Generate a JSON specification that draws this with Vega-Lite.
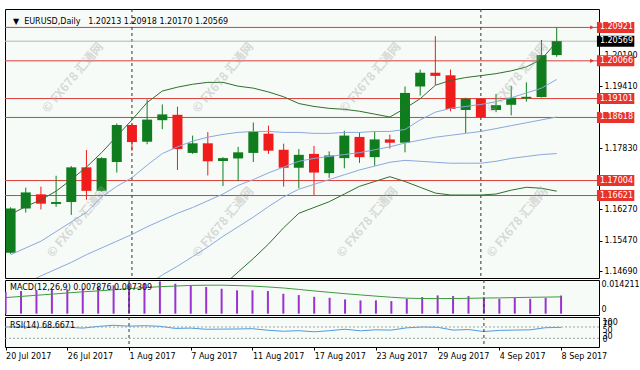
{
  "$schema": "https://vega.github.io/schema/vega-lite/v6.json",
  "padding": {"left": 4, "top": 8, "right": 0, "bottom": 0},
  "background": "white",
  "bounds": "flush",
  "spacing": 2,
  "config": {
    "view": {"stroke": "#000000", "strokeWidth": 1, "fill": "#f7fbf7"},
    "font": "DejaVu Sans",
    "axis": {"labelFont": "DejaVu Sans", "labelFontSize": 8, "labelColor": "#000000", "tickColor": "#000000", "tickSize": 3, "domain": false, "grid": false, "labelPadding": 2}
  },
  "datasets": {
    "bars": [
      {"i":0,"o":1.15157,"h":1.16320,"l":1.15130,"c":1.16290,"u2":1.16142,"u1":1.15108,"m":1.14197,"l1":null,"l2":null,"macd":0.00950,"sig":0.00700,"rsi":70.0},
      {"i":1,"o":1.16290,"h":1.16824,"l":1.16184,"c":1.16701,"u2":1.16339,"u1":1.15281,"m":1.14370,"l1":null,"l2":null,"macd":0.00984,"sig":0.00750,"rsi":70.2},
      {"i":2,"o":1.16652,"h":1.16849,"l":1.16266,"c":1.16413,"u2":1.16512,"u1":1.15453,"m":1.14567,"l1":null,"l2":null,"macd":0.01014,"sig":0.00800,"rsi":68.5},
      {"i":3,"o":1.16406,"h":1.17127,"l":1.16332,"c":1.16455,"u2":1.16733,"u1":1.15699,"m":1.14739,"l1":null,"l2":null,"macd":0.01027,"sig":0.00850,"rsi":68.0},
      {"i":4,"o":1.16455,"h":1.17374,"l":1.16125,"c":1.17342,"u2":1.17029,"u1":1.15945,"m":1.14911,"l1":null,"l2":null,"macd":0.01058,"sig":0.00900,"rsi":69.5},
      {"i":5,"o":1.17342,"h":1.17785,"l":1.16512,"c":1.16741,"u2":1.17349,"u1":1.16192,"m":1.15108,"l1":null,"l2":null,"macd":0.01084,"sig":0.00950,"rsi":66.0},
      {"i":6,"o":1.16741,"h":1.17600,"l":1.16720,"c":1.17578,"u2":1.17718,"u1":1.16586,"m":1.15281,"l1":null,"l2":null,"macd":0.01158,"sig":0.00990,"rsi":72.0},
      {"i":7,"o":1.17479,"h":1.18464,"l":1.17209,"c":1.18425,"u2":1.18137,"u1":1.16857,"m":1.15453,"l1":null,"l2":null,"macd":0.01232,"sig":0.01040,"rsi":76.0},
      {"i":8,"o":1.18425,"h":1.18450,"l":1.17768,"c":1.17989,"u2":1.18556,"u1":1.17078,"m":1.15625,"l1":null,"l2":null,"macd":0.01276,"sig":0.01087,"rsi":73.0},
      {"i":9,"o":1.17997,"h":1.19080,"l":1.17933,"c":1.18563,"u2":1.18999,"u1":1.17398,"m":1.15822,"l1":1.14320,"l2":null,"macd":0.01320,"sig":0.01130,"rsi":74.5},
      {"i":10,"o":1.18548,"h":1.18950,"l":1.18317,"c":1.18696,"u2":1.19294,"u1":1.17694,"m":1.15995,"l1":1.14591,"l2":null,"macd":0.01400,"sig":0.01174,"rsi":72.5},
      {"i":11,"o":1.18686,"h":1.18893,"l":1.17275,"c":1.17809,"u2":1.19393,"u1":1.17866,"m":1.16167,"l1":1.14813,"l2":null,"macd":0.01302,"sig":0.01200,"rsi":65.0},
      {"i":12,"o":1.17711,"h":1.18154,"l":1.17686,"c":1.17957,"u2":1.19467,"u1":1.18014,"m":1.16315,"l1":1.15059,"l2":null,"macd":0.01232,"sig":0.01229,"rsi":66.0},
      {"i":13,"o":1.17957,"h":1.18243,"l":1.17135,"c":1.17497,"u2":1.19516,"u1":1.18112,"m":1.16487,"l1":1.15305,"l2":null,"macd":0.01158,"sig":0.01237,"rsi":62.0},
      {"i":14,"o":1.17504,"h":1.17602,"l":1.16864,"c":1.17578,"u2":1.19516,"u1":1.18186,"m":1.16660,"l1":1.15576,"l2":1.14320,"macd":0.01084,"sig":0.01240,"rsi":62.5},
      {"i":15,"o":1.17570,"h":1.17866,"l":1.16987,"c":1.17726,"u2":1.19418,"u1":1.18236,"m":1.16881,"l1":1.15822,"l2":1.14665,"macd":0.01014,"sig":0.01222,"rsi":63.0},
      {"i":16,"o":1.17711,"h":1.18489,"l":1.17479,"c":1.18260,"u2":1.19368,"u1":1.18260,"m":1.17029,"l1":1.16069,"l2":1.15010,"macd":0.01014,"sig":0.01200,"rsi":64.0},
      {"i":17,"o":1.18203,"h":1.18408,"l":1.17686,"c":1.17768,"u2":1.19270,"u1":1.18260,"m":1.17201,"l1":1.16339,"l2":1.15379,"macd":0.00984,"sig":0.01162,"rsi":58.5},
      {"i":18,"o":1.17792,"h":1.17947,"l":1.16849,"c":1.17332,"u2":1.19147,"u1":1.18236,"m":1.17349,"l1":1.16586,"l2":1.15798,"macd":0.00865,"sig":0.01117,"rsi":55.0},
      {"i":19,"o":1.17332,"h":1.17810,"l":1.16807,"c":1.17662,"u2":1.18974,"u1":1.18236,"m":1.17497,"l1":1.16783,"l2":1.16167,"macd":0.00808,"sig":0.01055,"rsi":57.0},
      {"i":20,"o":1.17686,"h":1.17891,"l":1.16635,"c":1.17209,"u2":1.18900,"u1":1.18211,"m":1.17571,"l1":1.16906,"l2":1.16315,"macd":0.00734,"sig":0.00988,"rsi":53.0},
      {"i":21,"o":1.17194,"h":1.17750,"l":1.17071,"c":1.17645,"u2":1.18851,"u1":1.18211,"m":1.17620,"l1":1.17029,"l2":1.16463,"macd":0.00690,"sig":0.00928,"rsi":57.0},
      {"i":22,"o":1.17578,"h":1.18277,"l":1.17317,"c":1.18154,"u2":1.18826,"u1":1.18236,"m":1.17669,"l1":1.17152,"l2":1.16660,"macd":0.00620,"sig":0.00868,"rsi":62.0},
      {"i":23,"o":1.18120,"h":1.18235,"l":1.17455,"c":1.17603,"u2":1.18777,"u1":1.18236,"m":1.17718,"l1":1.17275,"l2":1.16857,"macd":0.00577,"sig":0.00815,"rsi":56.5},
      {"i":24,"o":1.17603,"h":1.18260,"l":1.17381,"c":1.18056,"u2":1.18703,"u1":1.18260,"m":1.17792,"l1":1.17374,"l2":1.16980,"macd":0.00577,"sig":0.00763,"rsi":60.0},
      {"i":25,"o":1.18056,"h":1.18179,"l":1.17824,"c":1.17972,"u2":1.18629,"u1":1.18260,"m":1.17866,"l1":1.17472,"l2":1.17103,"macd":0.00546,"sig":0.00715,"rsi":59.0},
      {"i":26,"o":1.17972,"h":1.19410,"l":1.17726,"c":1.19245,"u2":1.18851,"u1":1.18309,"m":1.17965,"l1":1.17521,"l2":1.16980,"macd":0.00647,"sig":0.00674,"rsi":67.0},
      {"i":27,"o":1.19410,"h":1.19843,"l":1.19179,"c":1.19762,"u2":1.19097,"u1":1.18556,"m":1.18039,"l1":1.17497,"l2":1.16832,"macd":0.00721,"sig":0.00660,"rsi":70.0},
      {"i":28,"o":1.19762,"h":1.20698,"l":1.19449,"c":1.19681,"u2":1.19442,"u1":1.18753,"m":1.18112,"l1":1.17472,"l2":1.16684,"macd":0.00795,"sig":0.00656,"rsi":69.0},
      {"i":29,"o":1.19696,"h":1.19843,"l":1.18777,"c":1.18834,"u2":1.19565,"u1":1.18851,"m":1.18162,"l1":1.17448,"l2":1.16635,"macd":0.00765,"sig":0.00660,"rsi":59.0},
      {"i":30,"o":1.18809,"h":1.19122,"l":1.18218,"c":1.19097,"u2":1.19639,"u1":1.18900,"m":1.18211,"l1":1.17448,"l2":1.16635,"macd":0.00765,"sig":0.00668,"rsi":61.0},
      {"i":31,"o":1.19097,"h":1.19110,"l":1.18600,"c":1.18629,"u2":1.19688,"u1":1.18950,"m":1.18260,"l1":1.17448,"l2":1.16635,"macd":0.00721,"sig":0.00680,"rsi":54.0},
      {"i":32,"o":1.18809,"h":1.19220,"l":1.18753,"c":1.18932,"u2":1.19738,"u1":1.19023,"m":1.18334,"l1":1.17497,"l2":1.16660,"macd":0.00647,"sig":0.00687,"rsi":58.0},
      {"i":33,"o":1.18942,"h":1.19425,"l":1.18671,"c":1.19122,"u2":1.19811,"u1":1.19122,"m":1.18408,"l1":1.17571,"l2":1.16758,"macd":0.00690,"sig":0.00700,"rsi":59.0},
      {"i":34,"o":1.19105,"h":1.19516,"l":1.19023,"c":1.19146,"u2":1.19910,"u1":1.19245,"m":1.18482,"l1":1.17620,"l2":1.16832,"macd":0.00647,"sig":0.00711,"rsi":60.0},
      {"i":35,"o":1.19139,"h":1.20599,"l":1.19130,"c":1.20213,"u2":1.20107,"u1":1.19368,"m":1.18556,"l1":1.17669,"l2":1.16807,"macd":0.00690,"sig":0.00720,"rsi":67.5},
      {"i":36,"o":1.20213,"h":1.20918,"l":1.20170,"c":1.20569,"u2":1.20550,"u1":1.19590,"m":1.18629,"l1":1.17694,"l2":1.16733,"macd":0.007876,"sig":0.007309,"rsi":68.6671}
    ],
    "levels": [{"p":1.20921},{"p":1.20066},{"p":1.19101},{"p":1.18618},{"p":1.17004},{"p":1.16621}],
    "last": [{"p":1.20569}],
    "sep": [{"i":8},{"i":31}],
    "wm": [
      {"i":4.1,"p":1.19639},{"i":14.0,"p":1.19639},{"i":23.7,"p":1.19639},{"i":33.4,"p":1.19639},
      {"i":4.4,"p":1.15945},{"i":14.0,"p":1.15945},{"i":23.5,"p":1.15945},{"i":33.4,"p":1.15945}
    ],
    "ttl": [{"t":"▼\u00a0 EURUSD,Daily\u00a0\u00a0 1.20213 1.20918 1.20170 1.20569","i":0.156,"p":1.21055}],
    "macdlbl": [{"t":"MACD(12,26,9) 0.007876 0.007309","i":0.285,"v":0.01095}],
    "rsilbl": [{"t":"RSI(14) 68.6671","i":0.285,"v":73.5}],
    "rsilev": [{"v":70},{"v":30}],
    "rsiax": [{"v":100},{"v":70},{"v":50},{"v":30},{"v":0}]
  },
  "vconcat": [
    {
      "width": 594,
      "height": 269,
      "layer": [
        {
          "data": {"name": "levels"},
          "mark": {"type": "rule", "color": "#dc3c38", "strokeWidth": 1},
          "encoding": {
            "y": {"field": "p", "type": "quantitative", "scale": {"domain": [1.1464, 1.21264], "nice": false, "zero": false},
              "axis": {"orient": "right", "values": [1.1469, 1.1547, 1.1627, 1.1783, 1.1941, 1.2019], "format": ".5f", "title": null, "labelBaseline": "middle", "labelOverlap": false, "labelFlush": false}}
          }
        },
        {
          "data": {"name": "sep"},
          "mark": {"type": "rule", "color": "#333333", "strokeDash": [3, 3], "strokeWidth": 1},
          "encoding": {
            "x": {"field": "i", "type": "quantitative", "scale": {"domain": [-0.039, 38.458], "nice": false, "zero": false}, "axis": null}
          }
        },
        {
          "data": {"name": "last"},
          "mark": {"type": "rule", "color": "#b4b4b4", "strokeWidth": 1},
          "encoding": {
            "y": {"field": "p", "type": "quantitative", "scale": {"domain": [1.1464, 1.21264], "nice": false, "zero": false}}
          }
        },
        {
          "data": {"name": "bars"},
          "mark": {"type": "rule", "strokeWidth": 1, "clip": true},
          "encoding": {
            "x": {"field": "i", "type": "quantitative", "scale": {"domain": [-0.039, 38.458], "nice": false, "zero": false}, "axis": null},
            "y": {"field": "l", "type": "quantitative", "scale": {"domain": [1.1464, 1.21264], "nice": false, "zero": false}},
            "y2": {"field": "h"},
            "color": {"condition": {"test": "datum.c >= datum.o", "value": "#0f7d1e"}, "value": "#f01c1c"}
          }
        },
        {
          "data": {"name": "bars"},
          "mark": {"type": "bar", "size": 10, "clip": true},
          "encoding": {
            "x": {"field": "i", "type": "quantitative", "scale": {"domain": [-0.039, 38.458], "nice": false, "zero": false}, "axis": null},
            "y": {"field": "o", "type": "quantitative", "scale": {"domain": [1.1464, 1.21264], "nice": false, "zero": false}},
            "y2": {"field": "c"},
            "color": {"condition": {"test": "datum.c >= datum.o", "value": "#0f7d1e"}, "value": "#f01c1c"}
          }
        },
        {
          "data": {"name": "bars"},
          "mark": {"type": "line", "color": "#2f6f2f", "strokeWidth": 1, "clip": true},
          "encoding": {
            "x": {"field": "i", "type": "quantitative", "scale": {"domain": [-0.039, 38.458], "nice": false, "zero": false}, "axis": null},
            "y": {"field": "u2", "type": "quantitative", "scale": {"domain": [1.1464, 1.21264], "nice": false, "zero": false}}
          }
        },
        {
          "data": {"name": "bars"},
          "mark": {"type": "line", "color": "#2f6f2f", "strokeWidth": 1, "clip": true},
          "encoding": {
            "x": {"field": "i", "type": "quantitative", "scale": {"domain": [-0.039, 38.458], "nice": false, "zero": false}, "axis": null},
            "y": {"field": "l2", "type": "quantitative", "scale": {"domain": [1.1464, 1.21264], "nice": false, "zero": false}}
          }
        },
        {
          "data": {"name": "bars"},
          "mark": {"type": "line", "color": "#8aa8de", "strokeWidth": 1, "clip": true},
          "encoding": {
            "x": {"field": "i", "type": "quantitative", "scale": {"domain": [-0.039, 38.458], "nice": false, "zero": false}, "axis": null},
            "y": {"field": "u1", "type": "quantitative", "scale": {"domain": [1.1464, 1.21264], "nice": false, "zero": false}}
          }
        },
        {
          "data": {"name": "bars"},
          "mark": {"type": "line", "color": "#8aa8de", "strokeWidth": 1, "clip": true},
          "encoding": {
            "x": {"field": "i", "type": "quantitative", "scale": {"domain": [-0.039, 38.458], "nice": false, "zero": false}, "axis": null},
            "y": {"field": "m", "type": "quantitative", "scale": {"domain": [1.1464, 1.21264], "nice": false, "zero": false}}
          }
        },
        {
          "data": {"name": "bars"},
          "mark": {"type": "line", "color": "#8aa8de", "strokeWidth": 1, "clip": true},
          "encoding": {
            "x": {"field": "i", "type": "quantitative", "scale": {"domain": [-0.039, 38.458], "nice": false, "zero": false}, "axis": null},
            "y": {"field": "l1", "type": "quantitative", "scale": {"domain": [1.1464, 1.21264], "nice": false, "zero": false}}
          }
        },
        {
          "data": {"name": "wm"},
          "mark": {"type": "text", "text": "© FX678 汇通网", "angle": -50, "font": "Noto Sans CJK SC", "fontSize": 12, "fontWeight": "bold", "color": "#a8a8a8", "opacity": 0.4, "align": "center", "baseline": "middle", "clip": true},
          "encoding": {
            "x": {"field": "i", "type": "quantitative", "scale": {"domain": [-0.039, 38.458], "nice": false, "zero": false}, "axis": null},
            "y": {"field": "p", "type": "quantitative", "scale": {"domain": [1.1464, 1.21264], "nice": false, "zero": false}}
          }
        },
        {
          "data": {"name": "ttl"},
          "mark": {"type": "text", "font": "DejaVu Sans", "fontSize": 8, "color": "#000000", "align": "left", "baseline": "middle"},
          "encoding": {
            "x": {"field": "i", "type": "quantitative", "scale": {"domain": [-0.039, 38.458], "nice": false, "zero": false}, "axis": null},
            "y": {"field": "p", "type": "quantitative", "scale": {"domain": [1.1464, 1.21264], "nice": false, "zero": false}},
            "text": {"field": "t"}
          }
        },
        {
          "data": {"name": "levels"},
          "transform": [{"filter": "datum.p > 1.2"}],
          "mark": {"type": "point", "shape": "triangle-right", "filled": true, "size": 18, "color": "#e8322c", "opacity": 1},
          "encoding": {
            "x": {"datum": 38.33, "scale": {"domain": [-0.039, 38.458], "nice": false, "zero": false}, "axis": null},
            "y": {"field": "p", "type": "quantitative", "scale": {"domain": [1.1464, 1.21264], "nice": false, "zero": false}}
          }
        },
        {
          "data": {"name": "levels"},
          "mark": {"type": "bar", "orient": "horizontal", "size": 11, "color": "#e8322c"},
          "encoding": {
            "x": {"datum": 38.653, "scale": {"domain": [-0.039, 38.458], "nice": false, "zero": false}, "axis": null},
            "x2": {"datum": 41.115},
            "y": {"field": "p", "type": "quantitative", "scale": {"domain": [1.1464, 1.21264], "nice": false, "zero": false}}
          }
        },
        {
          "data": {"name": "last"},
          "mark": {"type": "bar", "orient": "horizontal", "size": 11, "color": "#000000"},
          "encoding": {
            "x": {"datum": 38.653, "scale": {"domain": [-0.039, 38.458], "nice": false, "zero": false}, "axis": null},
            "x2": {"datum": 41.115},
            "y": {"field": "p", "type": "quantitative", "scale": {"domain": [1.1464, 1.21264], "nice": false, "zero": false}}
          }
        },
        {
          "data": {"name": "levels"},
          "mark": {"type": "text", "font": "DejaVu Sans", "fontSize": 8, "color": "#ffffff", "align": "left", "baseline": "middle"},
          "encoding": {
            "x": {"datum": 38.847, "scale": {"domain": [-0.039, 38.458], "nice": false, "zero": false}, "axis": null},
            "y": {"field": "p", "type": "quantitative", "scale": {"domain": [1.1464, 1.21264], "nice": false, "zero": false}},
            "text": {"field": "p", "format": ".5f"}
          }
        },
        {
          "data": {"name": "last"},
          "mark": {"type": "text", "font": "DejaVu Sans", "fontSize": 8, "color": "#ffffff", "align": "left", "baseline": "middle"},
          "encoding": {
            "x": {"datum": 38.847, "scale": {"domain": [-0.039, 38.458], "nice": false, "zero": false}, "axis": null},
            "y": {"field": "p", "type": "quantitative", "scale": {"domain": [1.1464, 1.21264], "nice": false, "zero": false}},
            "text": {"field": "p", "format": ".5f"}
          }
        }
      ]
    },
    {
      "width": 594,
      "height": 35,
      "layer": [
        {
          "data": {"name": "bars"},
          "mark": {"type": "rule", "color": "#9a32d2", "strokeWidth": 2, "clip": true},
          "encoding": {
            "x": {"field": "i", "type": "quantitative", "scale": {"domain": [-0.039, 38.458], "nice": false, "zero": false}, "axis": null},
            "y": {"field": "macd", "type": "quantitative", "scale": {"domain": [-0.00057, 0.01464], "nice": false, "zero": false},
              "axis": {"orient": "right", "values": [0, 0.014211], "title": null, "labelOverlap": false, "labelFlush": false, "tickSize": 0, "labelPadding": 2,
                "labelExpr": "datum.value == 0 ? '0' : format(datum.value, '.6f')",
                "labelBaseline": {"condition": {"test": "datum.value == 0", "value": "bottom"}, "value": "top"}}},
            "y2": {"datum": 0}
          }
        },
        {
          "data": {"name": "sep"},
          "mark": {"type": "rule", "color": "#333333", "strokeDash": [3, 3], "strokeWidth": 1},
          "encoding": {
            "x": {"field": "i", "type": "quantitative", "scale": {"domain": [-0.039, 38.458], "nice": false, "zero": false}, "axis": null}
          }
        },
        {
          "data": {"name": "bars"},
          "mark": {"type": "line", "color": "#3f9a3f", "strokeWidth": 1, "clip": true},
          "encoding": {
            "x": {"field": "i", "type": "quantitative", "scale": {"domain": [-0.039, 38.458], "nice": false, "zero": false}, "axis": null},
            "y": {"field": "sig", "type": "quantitative", "scale": {"domain": [-0.00057, 0.01464], "nice": false, "zero": false}}
          }
        },
        {
          "data": {"name": "macdlbl"},
          "mark": {"type": "text", "font": "DejaVu Sans", "fontSize": 8, "color": "#000000", "align": "left", "baseline": "middle"},
          "encoding": {
            "x": {"field": "i", "type": "quantitative", "scale": {"domain": [-0.039, 38.458], "nice": false, "zero": false}, "axis": null},
            "y": {"field": "v", "type": "quantitative", "scale": {"domain": [-0.00057, 0.01464], "nice": false, "zero": false}},
            "text": {"field": "t"}
          }
        }
      ]
    },
    {
      "width": 594,
      "height": 30,
      "layer": [
        {
          "data": {"name": "bars"},
          "mark": {"type": "line", "color": "#4d9be0", "strokeWidth": 1, "clip": true},
          "encoding": {
            "x": {"field": "i", "type": "quantitative", "scale": {"domain": [-0.039, 38.458], "nice": false, "zero": false},
              "axis": {"orient": "bottom", "values": [0, 4, 8, 12, 16, 20, 24, 28, 32, 36], "title": null, "labelAlign": "left", "labelFlush": false, "labelOverlap": false, "labelPadding": 2, "tickSize": 3,
                "labelExpr": "['20 Jul 2017','26 Jul 2017','1 Aug 2017','7 Aug 2017','11 Aug 2017','17 Aug 2017','23 Aug 2017','29 Aug 2017','4 Sep 2017','8 Sep 2017'][round(datum.value / 4)]"}},
            "y": {"field": "rsi", "type": "quantitative", "scale": {"domain": [-0.7, 105.3], "nice": false, "zero": false}, "axis": null}
          }
        },
        {
          "data": {"name": "sep"},
          "mark": {"type": "rule", "color": "#333333", "strokeDash": [3, 3], "strokeWidth": 1},
          "encoding": {
            "x": {"field": "i", "type": "quantitative", "scale": {"domain": [-0.039, 38.458], "nice": false, "zero": false}}
          }
        },
        {
          "data": {"name": "rsilev"},
          "mark": {"type": "rule", "color": "#a0a0a0", "strokeDash": [2, 2], "strokeWidth": 1},
          "encoding": {
            "y": {"field": "v", "type": "quantitative", "scale": {"domain": [-0.7, 105.3], "nice": false, "zero": false}, "axis": null}
          }
        },
        {
          "data": {"name": "rsilbl"},
          "mark": {"type": "text", "font": "DejaVu Sans", "fontSize": 8, "color": "#000000", "align": "left", "baseline": "middle"},
          "encoding": {
            "x": {"field": "i", "type": "quantitative", "scale": {"domain": [-0.039, 38.458], "nice": false, "zero": false}},
            "y": {"field": "v", "type": "quantitative", "scale": {"domain": [-0.7, 105.3], "nice": false, "zero": false}, "axis": null},
            "text": {"field": "t"}
          }
        },
        {
          "data": {"name": "rsiax"},
          "transform": [{"filter": "datum.v == 100"}],
          "mark": {"type": "text", "font": "DejaVu Sans", "fontSize": 8, "color": "#000000", "align": "left", "baseline": "top"},
          "encoding": {
            "x": {"datum": 38.685, "scale": {"domain": [-0.039, 38.458], "nice": false, "zero": false}},
            "y": {"field": "v", "type": "quantitative", "scale": {"domain": [-0.7, 105.3], "nice": false, "zero": false}, "axis": null},
            "text": {"field": "v"}
          }
        },
        {
          "data": {"name": "rsiax"},
          "transform": [{"filter": "datum.v > 0 && datum.v < 100"}],
          "mark": {"type": "text", "font": "DejaVu Sans", "fontSize": 8, "color": "#000000", "align": "left", "baseline": "middle", "dy": -1.5},
          "encoding": {
            "x": {"datum": 38.685, "scale": {"domain": [-0.039, 38.458], "nice": false, "zero": false}},
            "y": {"field": "v", "type": "quantitative", "scale": {"domain": [-0.7, 105.3], "nice": false, "zero": false}, "axis": null},
            "text": {"field": "v"}
          }
        },
        {
          "data": {"name": "rsiax"},
          "transform": [{"filter": "datum.v == 0"}],
          "mark": {"type": "text", "font": "DejaVu Sans", "fontSize": 8, "color": "#000000", "align": "left", "baseline": "bottom", "dy": -2.5},
          "encoding": {
            "x": {"datum": 38.685, "scale": {"domain": [-0.039, 38.458], "nice": false, "zero": false}},
            "y": {"field": "v", "type": "quantitative", "scale": {"domain": [-0.7, 105.3], "nice": false, "zero": false}, "axis": null},
            "text": {"field": "v"}
          }
        }
      ]
    }
  ]
}
